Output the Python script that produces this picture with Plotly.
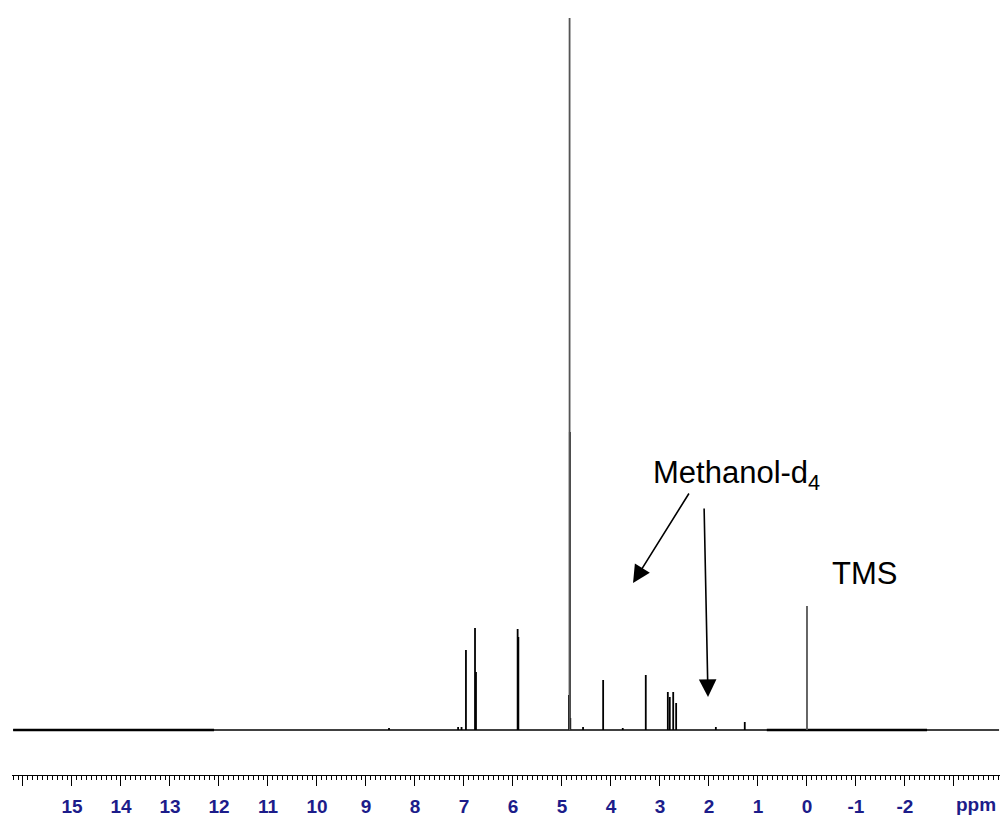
import plotly.graph_objects as go

# 1H NMR stick spectrum in methanol-d4 (chemical shift in ppm, relative intensity)
peak_ppm = [8.53, 7.12, 7.05, 6.96, 6.775, 6.755, 5.905, 5.89,
            4.857, 4.84, 4.83, 4.57, 4.16, 3.76, 3.29,
            2.84, 2.80, 2.73, 2.67, 1.86, 1.27]
peak_int = [2, 3, 3, 80, 102, 58, 101, 93,
            35, 298, 12, 3, 50, 2, 55,
            38, 33, 38, 27, 3, 8]

# strongest lines (residual HOD and TMS reference) drawn in grey
grey_ppm = [4.845, 0.0]
grey_int = [712, 124]

# baseline extent and the noisier stretches of it
baseline_ppm = [16.2, -3.92]
noisy_ppm = [(16.2, 12.1), (0.82, -2.45)]

labelled_ticks = list(range(15, -3, -1))
labelled_text = [str(v) for v in labelled_ticks]
edge_ticks = [16, -3]


def sticks(xs, ys):
    px, py = [], []
    for x, y in zip(xs, ys):
        px += [x, x, None]
        py += [0, y, None]
    return px, py


fig = go.Figure()

fig.add_trace(go.Scatter(x=baseline_ppm, y=[0, 0], mode="lines",
                         line=dict(color="black", width=1.3),
                         hoverinfo="skip", showlegend=False))
for a, b in noisy_ppm:
    fig.add_trace(go.Scatter(x=[a, b], y=[0, 0], mode="lines",
                             line=dict(color="black", width=2.6),
                             hoverinfo="skip", showlegend=False))

sx, sy = sticks(peak_ppm, peak_int)
fig.add_trace(go.Scatter(x=sx, y=sy, mode="lines",
                         line=dict(color="black", width=1.8),
                         hoverinfo="skip", showlegend=False))
gx, gy = sticks(grey_ppm, grey_int)
fig.add_trace(go.Scatter(x=gx, y=gy, mode="lines",
                         line=dict(color="#555555", width=1.8),
                         hoverinfo="skip", showlegend=False))
# invisible trace that keeps the overlay axis (unlabelled edge ticks) active
fig.add_trace(go.Scatter(x=baseline_ppm, y=[0, 0], mode="lines", xaxis="x2",
                         line=dict(width=0), hoverinfo="skip", showlegend=False))

label_font = dict(family="Liberation Sans, Arial, sans-serif", size=31, color="black")
axis_font = dict(family="Liberation Sans, Arial, sans-serif", size=19,
                 color="#1c1c8a", weight="bold")

annotations = [
    dict(x=1.43, y=255, xref="x", yref="y", text="Methanol-d<sub>4</sub>",
         showarrow=False, font=label_font),
    dict(x=-1.17, y=157, xref="x", yref="y", text="TMS",
         showarrow=False, font=label_font),
    # arrows pointing to solvent signals
    dict(x=3.55, y=147, ax=2.39, ay=238, xref="x", yref="y", axref="x", ayref="y",
         text="", showarrow=True, arrowhead=2, arrowsize=2.2, arrowwidth=1.6,
         arrowcolor="black"),
    dict(x=2.02, y=33, ax=2.10, ay=223, xref="x", yref="y", axref="x", ayref="y",
         text="", showarrow=True, arrowhead=2, arrowsize=2.2, arrowwidth=1.6,
         arrowcolor="black"),
    dict(x=-3.45, y=0, xref="x", yref="paper", yanchor="top", yshift=-17,
         text="<b>ppm</b>", showarrow=False, font=axis_font),
]

x_range = [16.224, -3.939]

fig.update_layout(
    width=1007, height=818,
    margin=dict(l=12, r=7, t=10, b=43),
    paper_bgcolor="white", plot_bgcolor="white",
    annotations=annotations,
    xaxis=dict(
        range=x_range, automargin=False,
        showgrid=False, zeroline=False,
        showline=True, linecolor="black", linewidth=1,
        ticks="outside", ticklen=10, tickwidth=1, tickcolor="black",
        tickvals=labelled_ticks, ticktext=labelled_text,
        ticklabelstandoff=4,
        tickfont=axis_font,
        minor=dict(dtick=0.1, tick0=0, ticks="outside", ticklen=4,
                   tickwidth=1, tickcolor="black", showgrid=False),
    ),
    xaxis2=dict(
        range=x_range, overlaying="x", anchor="y", side="bottom",
        automargin=False,
        showgrid=False, zeroline=False, showline=False,
        ticks="outside", ticklen=10, tickwidth=1, tickcolor="black",
        tickvals=edge_ticks, showticklabels=False,
    ),
    yaxis=dict(range=[-45, 720], visible=False, automargin=False,
               showgrid=False, zeroline=False),
)

fig.write_html("out.html")
